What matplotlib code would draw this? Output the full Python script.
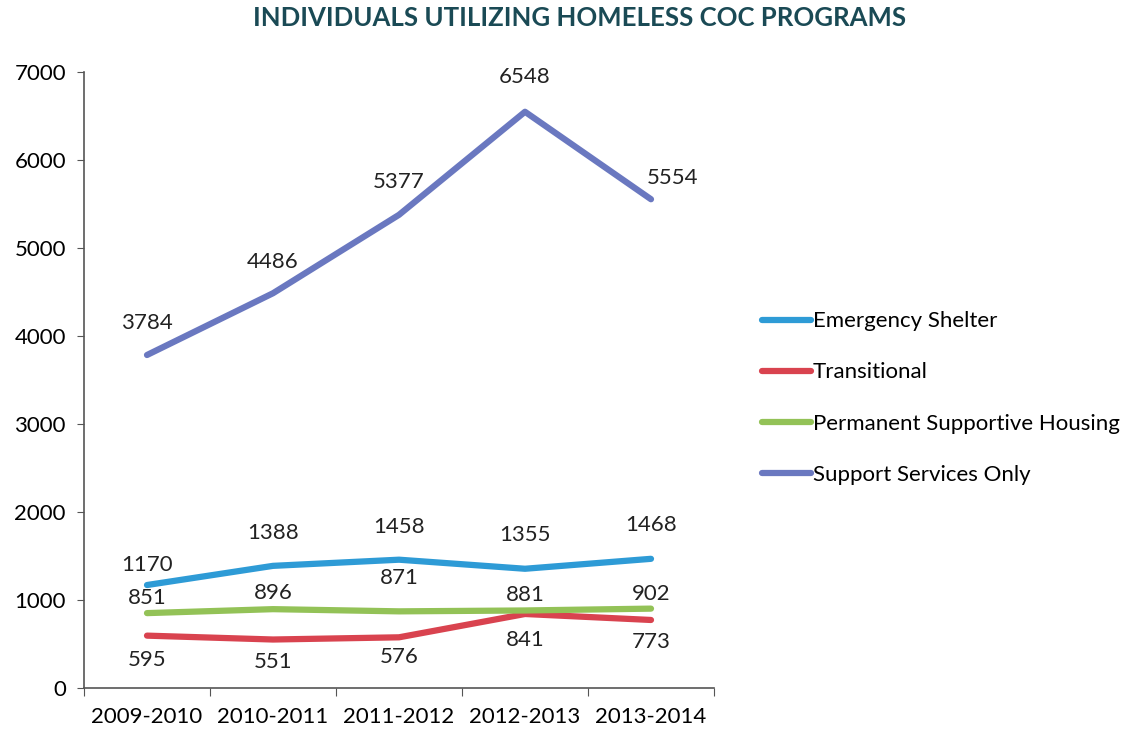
import matplotlib.pyplot as plt

years = ["2009-2010", "2010-2011", "2011-2012", "2012-2013", "2013-2014"]
emergency = [1170, 1388, 1458, 1355, 1468]
transitional = [595, 551, 576, 841, 773]
permanent = [851, 896, 871, 881, 902]
support = [3784, 4486, 5377, 6548, 5554]

# label offsets in pixels (dx, dy) for each point of each series
emergency_off = [(0, 20), (0, 33), (0, 33), (0, 34), (0, 34)]
transitional_off = [(0, -24), (0, -22), (0, -20), (0, -26), (0, -22)]
permanent_off = [(0, 15), (0, 16), (0, 33), (0, 15), (0, 15)]
support_off = [(0, 32), (0, 31), (0, 33), (0, 35), (22, 21)]

series = [
    ("Emergency Shelter", emergency, "#2e9bd6", emergency_off),
    ("Transitional", transitional, "#d9434f", transitional_off),
    ("Permanent Supportive Housing", permanent, "#93c257", permanent_off),
    ("Support Services Only", support, "#6a78c0", support_off),
]

plt.rcParams['font.family'] = ['Lato', 'DejaVu Sans']
fs = 16

fig = plt.figure(figsize=(11.37, 7.36), dpi=100)
ax = fig.add_axes([84/1137, 1 - 688/736, 630/1137, 616/736])

x = list(range(len(years)))
lines = []
for name, vals, col, offs in series:
    ln, = ax.plot(x, vals, color=col, lw=4.5, solid_capstyle='round', label=name)
    lines.append(ln)
    for xi, v, (dx, dy) in zip(x, vals, offs):
        ax.annotate(str(v), (xi, v), xytext=(dx, dy), textcoords='offset pixels',
                    ha='center', va='center', fontsize=fs, color='#222222')

ax.set_xlim(-0.5, len(years) - 0.5)
ax.set_ylim(0, 7000)
ax.set_yticks(range(0, 7001, 1000))
ax.set_xticks([i - 0.5 for i in range(len(years) + 1)], minor=False)
ax.set_xticklabels([])
ax.set_xticks(x, minor=True)
ax.set_xticklabels(years, minor=True)
ax.tick_params(axis='x', which='minor', length=0, pad=14, labelsize=fs)
ax.tick_params(axis='x', which='major', length=6, direction='out', color='#555555')
ax.tick_params(axis='y', length=5, labelsize=fs, pad=8, color='#555555')
for s in ['top', 'right']:
    ax.spines[s].set_visible(False)
for s in ['left', 'bottom']:
    ax.spines[s].set_color('#555555')
    ax.spines[s].set_linewidth(1.2)

# legend sits to the right of the plot
fig.legend(handles=lines, loc='center left', bbox_to_anchor=(742/1137, 1 - 398/736),
           frameon=False, fontsize=fs, handlelength=2.2, handletextpad=0.1,
           labelspacing=1.4)

fig.text(580/1137, 1 - 18/736, "INDIVIDUALS UTILIZING HOMELESS COC PROGRAMS",
         ha='center', va='center', fontsize=18.5, fontweight='bold', color='#1a4a55')

fig.savefig("out.png", dpi=100)
